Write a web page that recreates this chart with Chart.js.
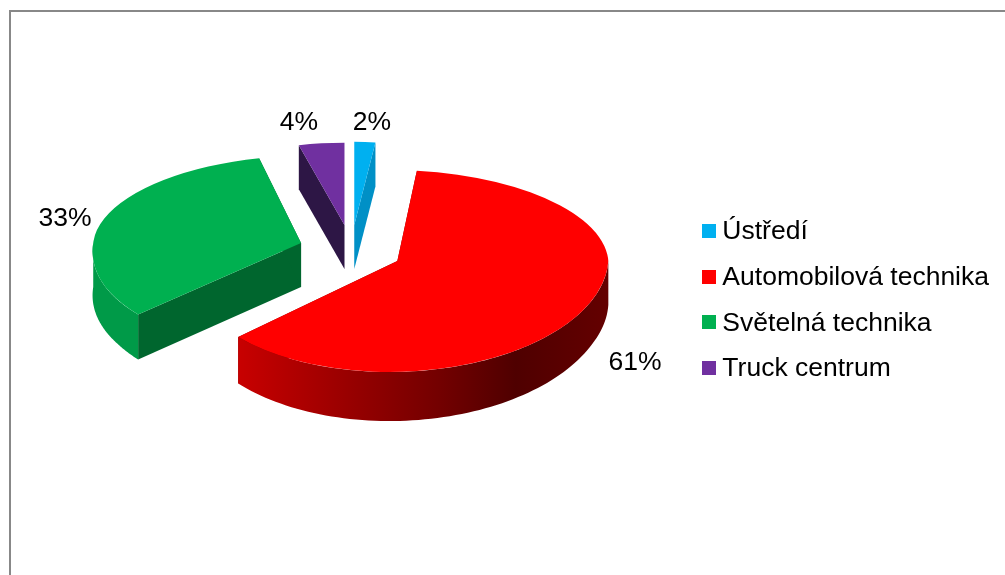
<!DOCTYPE html>
<html>
<head>
<meta charset="utf-8">
<script src="https://cdn.jsdelivr.net/npm/chart.js@4/dist/chart.umd.js"></script>
<style>
    body { margin: 0; background: #fff; overflow: hidden; }
    #frame { position: absolute; left: 9px; top: 10px; width: 1100px; height: 700px; border-left: 2px solid #888; border-top: 2px solid #888; }
    #chart { position: absolute; left: 0; top: 0; }
</style>
</head>
<body>
<div id="frame"></div>
<canvas id="chart" width="1005" height="575"></canvas>
<script>
const divisions = ["Ústředí", "Automobilová technika", "Světelná technika", "Truck centrum"];
const shares = [2, 61, 33, 4];
const topColors = ["#00B0F0", "#FF0000", "#00B050", "#7030A0"];
const cutColors = ["#0090C6", "#7A0000", "#00662E", "#2D1645"];
const rimColors = ["#0090C6", "#7A0000", "#009A48", "#2D1645"];
const redRimStops = [[0, "#C80000"], [0.3, "#980000"], [0.55, "#720000"], [0.75, "#4F0000"], [1, "#640000"]];

// where the percent texts sit, centre of each text
const labelSpots = [[372, 123], [635, 363], [65, 219], [299, 123]];

// fake 3D view: the pie is squashed harder behind the slice tip than in front of it
const pieCentre = { x: 351, y: 250 };
const explode = 52;
const baseSquash = 0.48;
const depth = 44;
const squashBack = [0.394, 0.431, 0.415, 0.39];
const squashFront = [0.5, 0.526, 0.495, 0.5];
const shearBack = [0, 0.077, -0.115, 0];
const shearFront = [0, -0.07, -0.16, 0];
const widthScale = [0.8, 1, 0.985, 0.87];
const labelFont = "26.5px 'Liberation Sans', Arial, sans-serif";

function sliceTip(arc) {
    const mid = (arc.startAngle + arc.endAngle) / 2;
    return {
        x: pieCentre.x + Math.cos(mid) * explode,
        y: Math.round(pieCentre.y + Math.sin(mid) * explode * baseSquash)
    };
}

function rimPoint(arc, i, tip, angle) {
    const dx = arc.outerRadius * Math.cos(angle) * widthScale[i];
    const dy = arc.outerRadius * Math.sin(angle);
    const y = dy < 0 ? dy * squashBack[i] : dy * squashFront[i];
    const shear = dy < 0 ? shearBack[i] : shearFront[i];
    return { x: tip.x + dx + shear * y, y: tip.y + y };
}

function fillPolygon(ctx, points, color) {
    ctx.beginPath();
    points.forEach(function(p, n) {
        if (n === 0) ctx.moveTo(p.x, p.y);
        else ctx.lineTo(p.x, p.y);
    });
    ctx.closePath();
    ctx.fillStyle = color;
    ctx.fill();
}

function down(p) {
    // the wall looks a little taller towards the viewer
    return { x: p.x, y: p.y + depth + Math.max(0, p.y - 300) * 0.07 };
}

function drawWalls(ctx, arc, i, tip) {
    [arc.startAngle, arc.endAngle].forEach(function(angle) {
        const p = rimPoint(arc, i, tip, angle);
        fillPolygon(ctx, [tip, p, down(p), down(tip)], cutColors[i]);
    });

    const from = Math.max(arc.startAngle, 0);
    const to = Math.min(arc.endAngle, Math.PI);
    if (to <= from) return;
    const upper = [];
    for (let n = 0; n <= 80; n++) {
        upper.push(rimPoint(arc, i, tip, from + (to - from) * n / 80));
    }
    let color = rimColors[i];
    if (i === 1) {
        color = ctx.createLinearGradient(upper[80].x, 0, upper[0].x, 0);
        redRimStops.forEach(function(stop) {
            color.addColorStop(stop[0], stop[1]);
        });
    }
    fillPolygon(ctx, upper.concat(upper.map(down).reverse()), color);
}

function drawTop(ctx, arc, i, tip) {
    [[squashBack[i], shearBack[i], 0, tip.y], [squashFront[i], shearFront[i], tip.y, 575 - tip.y]].forEach(function(part) {
        const k = part[0];
        const s = part[1] * k;
        const w = widthScale[i];
        ctx.save();
        ctx.beginPath();
        ctx.rect(0, part[2], 1005, part[3]);
        ctx.clip();
        ctx.setTransform(w, 0, s, k, tip.x - w * arc.x - s * arc.y, tip.y - k * arc.y);
        arc.draw(ctx);
        ctx.restore();
    });
}

const pie3d = {
    id: "pie3d",
    beforeDatasetsDraw(chart) {
        const ctx = chart.ctx;
        const arcs = chart.getDatasetMeta(0).data;
        const order = arcs.map(function(arc, i) {
            return { arc: arc, i: i, tip: sliceTip(arc) };
        }).sort(function(a, b) {
            return a.tip.y - b.tip.y;
        });
        order.forEach(function(s) {
            drawWalls(ctx, s.arc, s.i, s.tip);
            drawTop(ctx, s.arc, s.i, s.tip);
        });

        ctx.save();
        ctx.font = labelFont;
        ctx.fillStyle = "#000";
        ctx.textAlign = "center";
        ctx.textBaseline = "middle";
        shares.forEach(function(share, i) {
            ctx.fillText(share + "%", labelSpots[i][0], labelSpots[i][1]);
        });
        ctx.restore();
        return false;
    },
    afterDraw(chart) {
        // legend swatches are wider than the gap the legend leaves before its text
        const ctx = chart.ctx;
        const legend = chart.legend;
        legend.legendHitBoxes.forEach(function(box, i) {
            ctx.fillStyle = topColors[i];
            ctx.fillRect(Math.round(box.left), Math.round(box.top + box.height / 2 - 8), 14, 14);
        });
    }
};

new Chart(document.getElementById("chart"), {
    type: "pie",
    data: {
        labels: divisions,
        datasets: [
            {
                data: shares,
                backgroundColor: topColors,
                borderWidth: 0
            }
        ]
    },
    options: {
        responsive: false,
        animation: false,
        radius: 211,
        layout: { padding: { top: 26, right: 6 } },
        plugins: {
            tooltip: { enabled: false },
            legend: {
                position: "right",
                labels: {
                    boxWidth: 7,
                    boxHeight: 10,
                    padding: 19.2,
                    color: "#000",
                    font: { family: "'Liberation Sans', Arial, sans-serif", size: 26.5 }
                }
            }
        }
    },
    plugins: [pie3d]
});
</script>
</body>
</html>
